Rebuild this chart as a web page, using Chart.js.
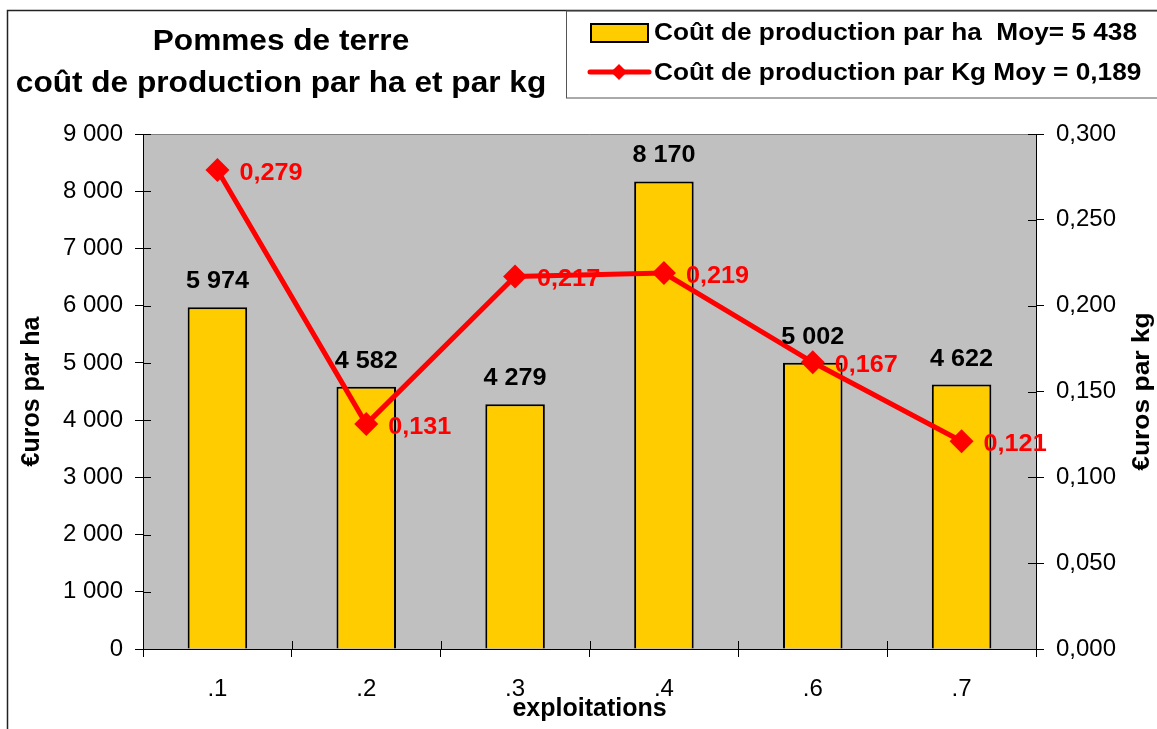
<!DOCTYPE html>
<html>
<head>
<meta charset="utf-8">
<script src="https://cdn.jsdelivr.net/npm/chart.js@4"></script>
<style>
  body { margin: 0; background: #fff; }
  #wrap { width: 1157px; height: 729px; }
</style>
</head>
<body>
<div id="wrap"><canvas id="potatoChart" width="1157" height="729"></canvas></div>
<script>
const exploitations = ['.1', '.2', '.3', '.4', '.6', '.7'];
const coutParHa = [5974, 4582, 4279, 8170, 5002, 4622];
const coutParKg = [0.279, 0.131, 0.217, 0.219, 0.167, 0.121];
const titleLines = ['Pommes de terre', 'coût de production par ha et par kg'];
const legendLabels = ['Coût de production par ha  Moy= 5 438', 'Coût de production par Kg Moy = 0,189'];
const axisTitles = ['€uros par ha', '€uros par kg', 'exploitations'];

const FONT = "'Liberation Sans', Arial, sans-serif";

function fmtNum(v, dec) {
    const parts = v.toFixed(dec).split('.');
    parts[0] = parts[0].replace(/\B(?=(\d{3})+(?!\d))/g, ' ');
    return parts.join(',');
}

// text with a small horizontal stretch, the original looks wider than Arial
function stretchText(ctx, text, x, y, size, color, align, sx, rot) {
    ctx.save();
    ctx.font = 'bold ' + size + 'px ' + FONT;
    ctx.fillStyle = color;
    ctx.textBaseline = 'alphabetic';
    const w = ctx.measureText(text).width * sx;
    ctx.translate(x, y);
    if (rot) ctx.rotate(rot);
    let left = 0;
    if (align === 'center') left = -w / 2;
    ctx.translate(left, 0);
    ctx.scale(sx, 1);
    ctx.textAlign = 'left';
    ctx.fillText(text, 0, 0);
    ctx.restore();
}

const decorPlugin = {
    id: 'decor',
    beforeDraw(chart) {
        const ctx = chart.ctx;
        const a = chart.chartArea;
        ctx.save();
        ctx.fillStyle = '#fff';
        ctx.fillRect(0, 0, chart.width, chart.height);
        // outer frame
        ctx.strokeStyle = '#222';
        ctx.lineWidth = 1.5;
        ctx.strokeRect(7.5, 10.5, 1300, 900);
        // plot background
        ctx.fillStyle = '#C0C0C0';
        ctx.fillRect(a.left, a.top, a.right - a.left, a.bottom - a.top);
        ctx.strokeStyle = '#808080';
        ctx.lineWidth = 1;
        ctx.beginPath();
        ctx.moveTo(a.left, a.top + 0.5);
        ctx.lineTo(a.right, a.top + 0.5);
        ctx.stroke();

        // title
        stretchText(ctx, titleLines[0], 281, 50, 29, '#000', 'center', 1.09);
        stretchText(ctx, titleLines[1], 281, 92, 29, '#000', 'center', 1.09);

        // legend box
        ctx.strokeStyle = '#555';
        ctx.lineWidth = 1;
        ctx.strokeRect(566.5, 11, 700, 87);
        ctx.fillStyle = '#FFCC00';
        ctx.fillRect(591, 24, 57, 18);
        ctx.strokeStyle = '#000';
        ctx.lineWidth = 2;
        ctx.strokeRect(591, 24, 57, 18);
        ctx.strokeStyle = '#FF0000';
        ctx.lineWidth = 5;
        ctx.lineCap = 'round';
        ctx.beginPath();
        ctx.moveTo(590, 72);
        ctx.lineTo(649, 72);
        ctx.stroke();
        ctx.fillStyle = '#FF0000';
        ctx.beginPath();
        ctx.moveTo(619, 64); ctx.lineTo(627, 72); ctx.lineTo(619, 80); ctx.lineTo(611, 72);
        ctx.closePath();
        ctx.fill();
        ctx.restore();
        stretchText(ctx, legendLabels[0], 654, 40, 23, '#000', 'left', 1.14);
        stretchText(ctx, legendLabels[1], 654, 80, 23, '#000', 'left', 1.14);

        // right axis title, read bottom to top like the left one
        stretchText(ctx, axisTitles[1], 1149, (a.top + a.bottom) / 2, 24, '#000', 'center', 1.1, -Math.PI / 2);
    },
    afterDraw(chart) {
        const ctx = chart.ctx;
        const a = chart.chartArea;
        const ys = chart.scales.y, yk = chart.scales.y1, xs = chart.scales.x;
        ctx.save();
        ctx.strokeStyle = '#000';
        ctx.lineWidth = 1;
        // inner halves of the crossing ticks
        ctx.beginPath();
        ys.ticks.forEach((t, i) => {
            const y = Math.round(ys.getPixelForTick(i)) + 0.5;
            ctx.moveTo(a.left, y); ctx.lineTo(a.left + 8, y);
        });
        yk.ticks.forEach((t, i) => {
            const y = Math.round(yk.getPixelForTick(i)) + 0.5;
            ctx.moveTo(a.right - 8, y); ctx.lineTo(a.right, y);
        });
        const half = (xs.getPixelForTick(1) - xs.getPixelForTick(0)) / 2;
        for (let i = 0; i <= exploitations.length; i++) {
            const x = Math.round(xs.getPixelForTick(Math.min(i, exploitations.length - 1)) + (i === exploitations.length ? half : -half)) + 0.5;
            ctx.moveTo(x, a.bottom); ctx.lineTo(x, a.bottom - 8);
        }
        ctx.stroke();
        ctx.restore();

        // value labels
        const bars = chart.getDatasetMeta(1).data;
        bars.forEach((b, i) => {
            stretchText(ctx, fmtNum(coutParHa[i], 0), b.x, b.y - 19, 24, '#000', 'center', 1.05);
        });
        const pts = chart.getDatasetMeta(0).data;
        pts.forEach((p, i) => {
            stretchText(ctx, fmtNum(coutParKg[i], 3), p.x + 22, p.y + 10, 24, '#FF0000', 'left', 1.05);
        });
    }
};

new Chart(document.getElementById('potatoChart').getContext('2d'), {
    data: {
        labels: exploitations,
        datasets: [{
            type: 'line',
            label: legendLabels[1],
            data: coutParKg,
            yAxisID: 'y1',
            order: 0,
            borderColor: '#FF0000',
            borderWidth: 5,
            pointStyle: 'rectRot',
            pointRadius: 12,
            pointBackgroundColor: '#FF0000',
            pointBorderWidth: 0,
            tension: 0
        }, {
            type: 'bar',
            label: legendLabels[0],
            data: coutParHa,
            yAxisID: 'y',
            order: 1,
            backgroundColor: '#FFCC00',
            borderColor: '#000',
            borderWidth: 2,
            categoryPercentage: 1.0,
            barPercentage: 0.4
        }]
    },
    options: {
        responsive: false,
        animation: false,
        layout: { padding: { top: 134, left: 0, right: 0, bottom: 0 } },
        plugins: {
            legend: { display: false },
            title: { display: false },
            tooltip: { enabled: false }
        },
        scales: {
            x: {
                offset: true,
                grid: { offset: true, drawOnChartArea: false, tickLength: 8, color: '#000' },
                border: { color: '#000', width: 1 },
                ticks: { color: '#000', padding: 18, font: { family: FONT, size: 24 } },
                title: { display: true, text: axisTitles[2], color: '#000',
                    font: { family: FONT, size: 25, weight: 'bold' }, padding: { top: 0, bottom: 5 } },
                afterFit: s => { s.height = 80; }
            },
            y: {
                position: 'left',
                min: 0, max: 9000,
                ticks: { stepSize: 1000, color: '#000', padding: 12,
                    font: { family: FONT, size: 24 },
                    callback: v => fmtNum(v, 0) },
                grid: { drawOnChartArea: false, tickLength: 8, color: '#000' },
                border: { color: '#000', width: 1 },
                title: { display: true, text: axisTitles[0], color: '#000',
                    font: { family: FONT, size: 25, weight: 'bold' }, padding: { top: 17, bottom: 0 } },
                afterFit: s => { s.width = 143; }
            },
            y1: {
                position: 'right',
                min: 0, max: 0.3,
                ticks: { stepSize: 0.05, color: '#000', padding: 12,
                    font: { family: FONT, size: 24 },
                    callback: v => fmtNum(v, 3) },
                grid: { drawOnChartArea: false, tickLength: 8, color: '#000' },
                border: { color: '#000', width: 1 },
                afterFit: s => { s.width = 121; }
            }
        }
    },
    plugins: [decorPlugin]
});
</script>
</body>
</html>
